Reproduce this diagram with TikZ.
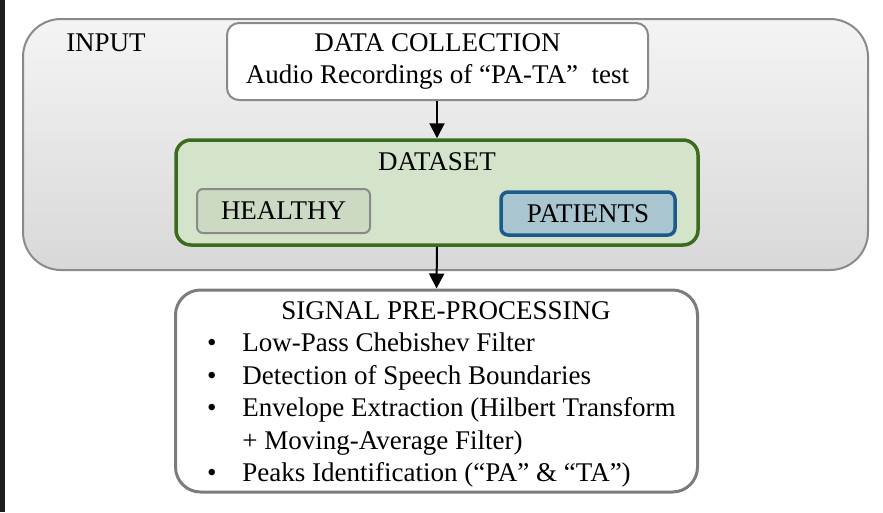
\documentclass[tikz,border=0pt]{standalone}
\usepackage{fontspec}
\setmainfont{Liberation Serif}
\usepackage{xcolor}
\usetikzlibrary{shapes,arrows.meta,calc,positioning}

\definecolor{outertop}{HTML}{F4F4F4}
\definecolor{outerbot}{HTML}{D8D8D8}
\definecolor{greyline}{HTML}{8A8A8A}
\definecolor{dsfill}{HTML}{D4E4CB}
\definecolor{dsline}{HTML}{3B6B1F}
\definecolor{hfill}{HTML}{CCD9C3}
\definecolor{pfill}{HTML}{A9C6D0}
\definecolor{pline}{HTML}{1D5A8C}
\definecolor{edge}{HTML}{1E1E1E}

\begin{document}
\begin{tikzpicture}[x=1pt,y=1pt,
    box/.style={rectangle, rounded corners=#1, inner sep=0pt},
    txt/.style={font=\fontsize{27}{32.5}\selectfont, inner sep=0pt},
    >={Triangle[width=15pt,length=15pt]}, line width=2pt]

  \useasboundingbox (0,0) rectangle (883,-512);
  \fill[edge] (0,0) rectangle (5,-512);

  % input block
  \node[box=38pt, draw=greyline, top color=outertop, bottom color=outerbot,
        minimum width=845pt, minimum height=251pt] (In) at (445.5,-144.5) {};
  \node[txt] (InLab) at (106,-43) {INPUT};

  \node[box=12pt, txt, draw=greyline, fill=white, align=center,
        minimum width=421pt, minimum height=77pt] (Coll) at (437.5,-61.5)
        {DATA COLLECTION\\Audio Recordings of “PA-TA”\ \ test};

  % dataset with its two groups
  \node[box=15pt, draw=dsline, line width=3.5pt, fill=dsfill,
        minimum width=522pt, minimum height=105pt] (Ds) at (437,-192.5) {};
  \node[txt] (DsLab) at (437,-162) {DATASET};
  \node[box=6pt, txt, draw=greyline, fill=hfill,
        minimum width=173pt, minimum height=44pt] (Hl) at (283.5,-211) {HEALTHY};
  \node[box=7pt, txt, draw=pline, line width=3.5pt, fill=pfill,
        minimum width=174pt, minimum height=43pt] (Pt) at (588,-213.5) {PATIENTS};

  % pre-processing steps
  \node[box=25pt, draw=greyline!90!black, line width=3pt, fill=white,
        minimum width=522pt, minimum height=202pt] (Sig) at (436.5,-391) {};
  \node[txt, anchor=base] (SigLab) at (446,-319) {SIGNAL PRE-PROCESSING};
  \node[txt, anchor=north west] (SigList) at (206,-328) {%
    \begin{tabular}{@{}c@{\hspace{26pt}}l@{}}
      • & Low-Pass Chebishev Filter\\
      • & Detection of Speech Boundaries\\
      • & Envelope Extraction (Hilbert Transform\\
        & + Moving-Average Filter)\\
      • & Peaks Identification (“PA” \& “TA”)
    \end{tabular}};

  \draw[->] (Coll.south -| Ds.north) -- (Ds.north);
  \draw[->] (Ds.south) -- (Sig.north);
\end{tikzpicture}
\end{document}
